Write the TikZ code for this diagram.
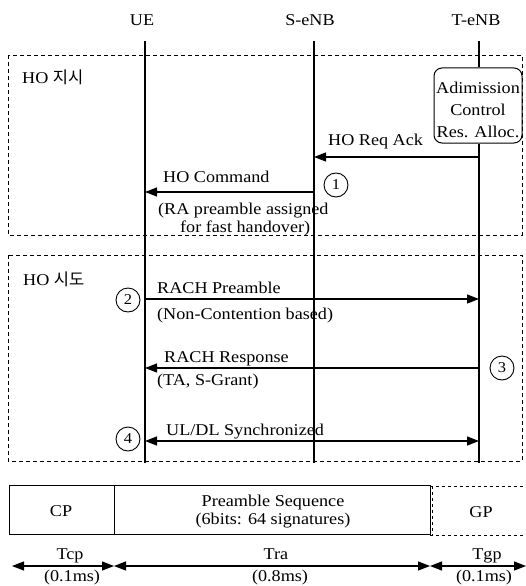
\documentclass[tikz,border=0pt]{standalone}
\usepackage{fontspec}
\setmainfont{Liberation Serif}[FakeStretch=1.1]
\newfontfamily\kr{Noto Sans CJK KR}
\usetikzlibrary{arrows.meta}
\begin{document}
\begin{tikzpicture}[x=1pt,y=-1pt,
  font=\fontsize{16.5}{19}\selectfont,
  life/.style={line width=1.2pt},
  tip/.tip={Triangle[length=12pt,width=9pt]},
  msg/.style={line width=1.2pt,-tip},
  dbl/.style={line width=1.2pt,tip-tip},
  phase/.style={draw,dash pattern=on 4pt off 3pt,line width=0.7pt},
  numc/.style={circle,draw,line width=0.9pt,minimum size=24pt,inner sep=0pt,font=\fontsize{15}{15}\selectfont},
  txt/.style={inner sep=0pt,anchor=base west},
  ctxt/.style={inner sep=0pt,anchor=base},
  fieldbox/.style={draw,line width=1pt},
  gpline/.style={dash pattern=on 3pt off 3pt,line width=0.8pt}
]
\useasboundingbox (0,0) rectangle (526,586);

% entity labels
\node[ctxt] (ueL) at (142,26) {UE};
\node[ctxt] (seL) at (310,26) {S-eNB};
\node[ctxt] (teL) at (476,26) {T-eNB};

% phase boxes
\draw[phase] (8,55) rectangle (522,235);
\draw[phase] (8,255) rectangle (522,461);
\node[txt] (ph1) at (22,84) {HO {\kr 지시}};
\node[txt] (ph2) at (23,285) {HO {\kr 시도}};

% lifeline coordinates
\coordinate (ueT) at (145,41);  \coordinate (ueB) at (145,463);
\coordinate (seT) at (314,41);  \coordinate (seB) at (314,463);
\coordinate (teT) at (479,41);  \coordinate (teB) at (479,463);

% admission box
\node[draw,line width=1pt,rounded corners=8pt,minimum width=88pt,minimum height=75pt,inner sep=0pt]
  (adm) at (478,105.5) {};
\node[ctxt] (adm1) at (478,93) {Adimission};
\node[ctxt] (adm2) at (478,115) {Control};
\node[ctxt] (adm3) at (478,137) {Res. Alloc.};

\draw[life] (ueT) -- (ueB);
\draw[life] (seT) -- (seB);
\draw[life] (teT) -- (teT |- adm.north);
\draw[life] (teB |- adm.south) -- (teB);

% message coordinates
\coordinate (te1) at (479,157); \coordinate (se1) at (314,157);
\coordinate (se2) at (314,192); \coordinate (ue2) at (145,192);
\coordinate (ue3) at (145,299); \coordinate (te3) at (479,299);
\coordinate (te4) at (479,368); \coordinate (ue4) at (145,368);
\coordinate (ue5) at (145,441); \coordinate (te5) at (479,441);

\draw[msg] (te1) -- (se1);
\draw[msg] (se2) -- (ue2);
\draw[msg] (ue3) -- (te3);
\draw[msg] (te4) -- (ue4);
\draw[dbl] (ue5) -- (te5);

\node[txt] (m1) at (328,145) {HO Req Ack};
\node[txt] (m2) at (163,182) {HO Command};
\node[txt] (m2a) at (158,214) {(RA preamble assigned};
\node[txt] (m2b) at (180,232) {for fast handover)};
\node[txt] (m3) at (157,293) {RACH Preamble};
\node[txt] (m3a) at (157,319) {(Non-Contention based)};
\node[txt] (m4) at (164,362) {RACH Response};
\node[txt] (m4a) at (157,385) {(TA, S-Grant)};
\node[txt] (m5) at (166,435) {UL/DL Synchronized};

\node[numc] (n1) at (336,185) {1};
\node[numc] (n2) at (128,300) {2};
\node[numc] (n3) at (502,368) {3};
\node[numc] (n4) at (128,439) {4};

% preamble format
\node[fieldbox,minimum width=105pt,minimum height=49pt,inner sep=0pt] (cp) at (61.5,509.5) {};
\node[fieldbox,minimum width=316pt,minimum height=49pt,inner sep=0pt] (ps) at (272,509.5) {};
\coordinate (gpTL) at (430,486); \coordinate (gpTR) at (526,486);
\coordinate (gpBL) at (430,535); \coordinate (gpBR) at (526,535);
\draw[gpline] (gpTL) -- (gpTR);
\draw[gpline] (gpBL) -- (gpBR);
\draw[gpline] ([xshift=2pt]gpTL) -- ([xshift=2pt]gpBL);

\node[ctxt] (cpL) at (61,516) {CP};
\node[ctxt] (psL1) at (273,506) {Preamble Sequence};
\node[ctxt] (psL2) at (273,524) {(6bits: 64 signatures)};
\node[ctxt] (gpL) at (481,517) {GP};

% durations
\coordinate (d0) at (12,566); \coordinate (d1) at (114,566);
\coordinate (d2) at (430,566); \coordinate (d3) at (526,566);
\draw[dbl] (d0) -- (d1);
\draw[dbl] (d1) -- (d2);
\draw[dbl] (d2) -- (d3);
\node[ctxt] (tcp) at (70,559) {Tcp};
\node[ctxt] (tra) at (276,559) {Tra};
\node[ctxt] (tgp) at (487,559) {Tgp};
\node[ctxt] (tcpv) at (72,581) {(0.1ms)};
\node[ctxt] (trav) at (280,581) {(0.8ms)};
\node[ctxt] (tgpv) at (484,581) {(0.1ms)};
\end{tikzpicture}
\end{document}
